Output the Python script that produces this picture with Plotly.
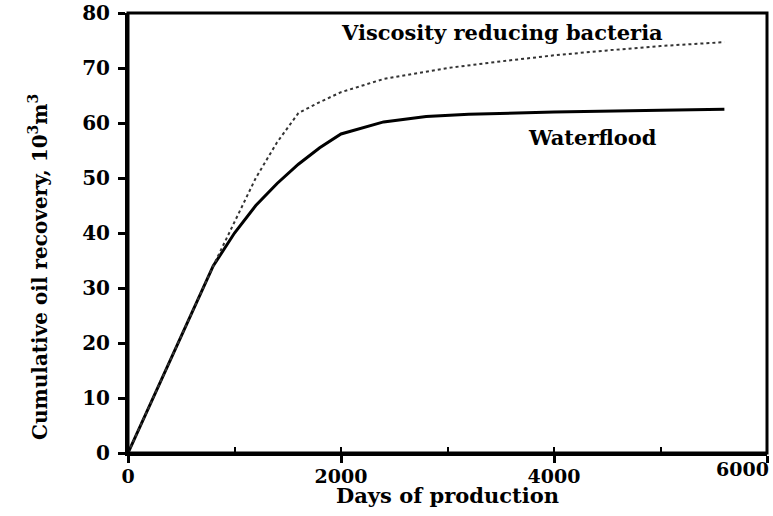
import plotly.graph_objects as go

days_water = [0, 400, 800, 1000, 1200, 1400, 1600, 1800, 2000, 2400, 2800, 3200, 4000, 5000, 5600]
rec_water = [0, 17, 34, 40, 45, 49, 52.5, 55.5, 58, 60.2, 61.2, 61.6, 62, 62.3, 62.5]

days_bact = [0, 400, 800, 1000, 1200, 1400, 1600, 1800, 2000, 2400, 3000, 3500, 4000, 4500, 5000, 5600]
rec_bact = [0, 17, 34, 42, 50, 56.5, 61.8, 63.8, 65.6, 68, 70, 71.2, 72.3, 73.2, 74, 74.7]

x_ticks = [0, 2000, 4000]
y_ticks = list(range(0, 81, 10))

font = "DejaVu Serif"

fig = go.Figure()
fig.add_trace(go.Scatter(x=days_water, y=rec_water, mode="lines",
                         line=dict(color="black", width=3), showlegend=False))
fig.add_trace(go.Scatter(x=days_bact, y=rec_bact, mode="lines",
                         line=dict(color="#333333", width=2, dash="dot"), showlegend=False))

fig.add_annotation(x=3512, y=76.5, text="<b>Viscosity reducing bacteria</b>", showarrow=False,
                   font=dict(family=font, size=21, color="black"))
fig.add_annotation(x=4357, y=57.3, text="<b>Waterflood</b>", showarrow=False,
                   font=dict(family=font, size=21, color="black"))

# last x tick label, right-aligned to the frame
fig.add_annotation(x=6000, xref="x", y=0, yref="paper", text="<b>6000</b>", showarrow=False,
                   xanchor="right", xshift=4, yanchor="middle", yshift=-16,
                   font=dict(family=font, size=19, color="black"))
# axis titles
fig.add_annotation(x=0.5, xref="paper", y=0, yref="paper", text="<b>Days of production</b>",
                   showarrow=False, xanchor="center", yanchor="middle", yshift=-42,
                   font=dict(family=font, size=21, color="black"))
fig.add_annotation(x=0, xref="paper", y=0.423, yref="paper",
                   text="<b>Cumulative oil recovery, 10<sup>3</sup>m<sup>3</sup></b>",
                   showarrow=False, textangle=-90, xanchor="center", yanchor="middle", xshift=-90,
                   font=dict(family=font, size=20, color="black"))

fig.add_shape(type="rect", xref="paper", yref="paper", x0=0, x1=1, y0=0, y1=1,
              line=dict(color="black", width=3), layer="above")

fig.update_layout(
    width=773, height=516,
    margin=dict(l=128, r=6, t=13, b=63),
    plot_bgcolor="white", paper_bgcolor="white",
    font=dict(family=font, size=19, color="black"),
    xaxis=dict(range=[0, 6000], tickvals=x_ticks + [6000],
               ticktext=["<b>%d</b>" % v for v in x_ticks] + [""],
               showgrid=False, zeroline=False, showline=True,
               linecolor="black", linewidth=3, ticks="outside", ticklen=7, tickwidth=3,
               tickcolor="black", automargin=False, ticklabeloverflow="allow",
               tickfont=dict(size=19), ticklabelstandoff=-3,
               minor=dict(ticks="inside", dtick=1000, tick0=0, ticklen=6, tickwidth=2, tickcolor="black", showgrid=False)),
    yaxis=dict(range=[0, 80], tickvals=y_ticks,
               ticktext=["<b>%d</b>" % v for v in y_ticks],
               showgrid=False, zeroline=False, showline=True,
               linecolor="black", linewidth=3, ticks="outside", ticklen=7, tickwidth=3,
               tickcolor="black", automargin=False, tickfont=dict(size=20),
               ticklabelstandoff=4, ticklabeloverflow="allow"),
)

fig.write_html("out.html", config={"displayModeBar": False},
               post_script="document.body.style.margin='0';document.body.style.overflow='hidden';")
